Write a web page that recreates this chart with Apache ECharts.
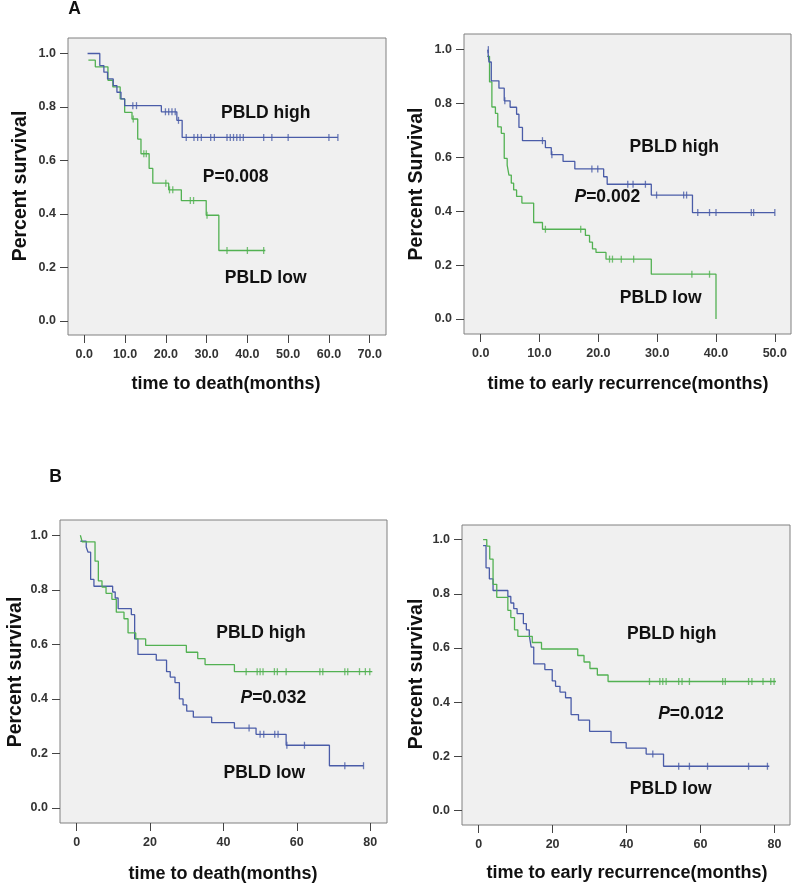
<!DOCTYPE html>
<html><head><meta charset="utf-8">
<script src="https://cdn.jsdelivr.net/npm/echarts@6/dist/echarts.min.js"></script>
<style>html,body{margin:0;padding:0;background:#fff}#c{width:796px;height:889px}</style>
</head><body><div id="c"></div>
<script>
// ---- tick values ----
const yTicks = [0, 0.2, 0.4, 0.6, 0.8, 1.0];
const aDeathXTicks = [0, 10, 20, 30, 40, 50, 60, 70];
const aRecXTicks = [0, 10, 20, 30, 40, 50];
const bXTicks = [0, 20, 40, 60, 80];

// ---- Panel A left: time to death ----
const aDeathHighT = [0.8, 3.8, 4.8, 5.7, 7.1, 8.0, 9.0, 9.9, 18.9, 22.7, 24.0];
const aDeathHighS = [1.0, 0.955, 0.93, 0.905, 0.88, 0.855, 0.83, 0.805, 0.782, 0.75, 0.686];
const aDeathHighEnd = 62.2;
const aDeathHighCens = [11.9, 12.8, 19.9, 20.7, 21.5, 22.3, 23.1, 25.0, 26.9, 27.8, 28.7, 31.0, 31.9, 35.0, 35.8, 36.6, 37.4, 38.2, 39.0, 44.0, 46.0, 50.0, 60.0, 62.2];
const aDeathLowT = [1.0, 2.7, 5.8, 7.0, 8.8, 9.9, 11.7, 13.1, 13.9, 15.9, 16.8, 20.7, 23.8, 29.9, 33.0];
const aDeathLowS = [0.975, 0.95, 0.90, 0.875, 0.83, 0.78, 0.755, 0.68, 0.625, 0.57, 0.515, 0.49, 0.45, 0.395, 0.263];
const aDeathLowEnd = 44.4;
const aDeathLowCens = [12.0, 14.6, 15.2, 20.0, 20.9, 21.7, 26.0, 26.8, 30.1, 35.0, 40.0, 44.0];

// ---- Panel A right: time to early recurrence ----
const aRecHighT = [1.2, 1.4, 1.8, 3.1, 4.0, 5.0, 6.1, 6.5, 7.1, 11.0, 12.0, 14.0, 16.0, 20.9, 21.5, 29.0, 36.0];
const aRecHighS = [1.0, 0.954, 0.884, 0.857, 0.81, 0.786, 0.76, 0.711, 0.662, 0.636, 0.61, 0.585, 0.557, 0.528, 0.50, 0.46, 0.395];
const aRecHighEnd = 50.0;
const aRecHighCens = [1.3, 4.1, 10.5, 12.1, 18.9, 19.9, 25.0, 25.9, 28.0, 29.9, 34.5, 35.0, 36.9, 38.9, 40.0, 46.0, 46.4, 50.0];
const aRecLowT = [1.1, 1.5, 1.9, 2.5, 2.9, 3.5, 4.0, 4.5, 4.8, 5.2, 5.6, 6.1, 7.0, 9.0, 10.5, 17.8, 18.5, 19.0, 19.6, 21.3, 29.0, 40.0];
const aRecLowS = [0.975, 0.88, 0.787, 0.763, 0.713, 0.689, 0.596, 0.571, 0.534, 0.504, 0.479, 0.455, 0.43, 0.358, 0.333, 0.31, 0.285, 0.26, 0.247, 0.222, 0.166, 0.0];
const aRecLowEnd = 40.0;
const aRecLowCens = [11.0, 17.0, 21.9, 22.4, 23.9, 26.0, 35.9, 38.9];

// ---- Panel B left: time to death ----
const bDeathHighT = [1.0, 1.5, 5.0, 5.9, 6.9, 8.0, 9.6, 10.8, 12.9, 14.0, 16.1, 18.8, 29.9, 33.0, 35.0, 43.0];
const bDeathHighS = [1.0, 0.976, 0.905, 0.833, 0.81, 0.787, 0.765, 0.718, 0.694, 0.642, 0.62, 0.596, 0.571, 0.548, 0.526, 0.50];
const bDeathHighEnd = 80.6;
const bDeathHighCens = [46.2, 49.2, 50.0, 50.8, 53.9, 54.7, 57.1, 66.3, 67.1, 73.1, 73.9, 77.1, 78.7, 79.9];
const bDeathLowT = [1.0, 2.6, 3.1, 3.8, 4.7, 9.8, 10.5, 11.3, 14.9, 15.8, 16.7, 21.7, 24.5, 25.5, 26.8, 28.0, 29.0, 30.0, 31.8, 36.8, 43.0, 48.9, 57.1, 68.9];
const bDeathLowS = [0.978, 0.957, 0.938, 0.838, 0.813, 0.792, 0.77, 0.731, 0.709, 0.62, 0.563, 0.542, 0.50, 0.48, 0.46, 0.40, 0.378, 0.355, 0.333, 0.313, 0.293, 0.27, 0.23, 0.155];
const bDeathLowEnd = 78.2;
const bDeathLowCens = [47.0, 50.0, 51.0, 54.0, 54.9, 57.3, 62.1, 73.1, 78.2];

// ---- Panel B right: time to early recurrence ----
const bRecHighT = [1.2, 2.2, 3.0, 3.9, 4.9, 7.9, 8.7, 9.7, 10.6, 14.5, 17.0, 26.8, 28.5, 30.1, 32.1, 35.0];
const bRecHighS = [1.0, 0.976, 0.928, 0.835, 0.787, 0.739, 0.712, 0.667, 0.643, 0.62, 0.596, 0.572, 0.548, 0.524, 0.50, 0.476];
const bRecHighEnd = 80.4;
const bRecHighCens = [46.2, 49.0, 49.8, 50.7, 54.1, 55.0, 57.0, 66.0, 66.7, 73.0, 73.9, 76.9, 79.0, 79.9];
const bRecLowT = [1.2, 2.0, 2.9, 3.9, 7.9, 8.7, 9.5, 10.4, 12.1, 12.9, 13.7, 14.2, 14.9, 17.9, 19.9, 20.8, 22.0, 23.5, 25.0, 27.0, 30.0, 35.8, 39.9, 45.3, 50.0];
const bRecLowS = [0.978, 0.896, 0.855, 0.812, 0.79, 0.766, 0.745, 0.727, 0.69, 0.667, 0.645, 0.603, 0.541, 0.52, 0.478, 0.458, 0.437, 0.416, 0.354, 0.333, 0.292, 0.25, 0.23, 0.208, 0.163];
const bRecLowEnd = 78.6;
const bRecLowCens = [47.1, 54.1, 57.0, 61.9, 73.0, 78.1];

const BLUE = '#4a5ca8', GREEN = '#52b152';
const FONT = '"Liberation Sans", Arial, Helvetica, sans-serif';

function stairs(T, S, end) {
  const p = [[T[0], S[0]]];
  for (let i = 1; i < T.length; i++) { p.push([T[i], S[i - 1]]); p.push([T[i], S[i]]); }
  p.push([end, S[S.length - 1]]);
  return p;
}
function cens(T, S, C) {
  return C.map(c => { let s = S[0]; for (let i = 0; i < T.length; i++) if (T[i] <= c) s = S[i]; return [c, s]; });
}

const panels = [
  { grid: { left: 68, top: 38, width: 318, height: 297 }, xr: [-4.0, 74.0], yr: [-0.053, 1.058], xt: aDeathXTicks, dec: 1,
    curves: [[aDeathLowT, aDeathLowS, aDeathLowEnd, aDeathLowCens, GREEN], [aDeathHighT, aDeathHighS, aDeathHighEnd, aDeathHighCens, BLUE]] },
  { grid: { left: 464, top: 34, width: 327, height: 300 }, xr: [-2.84, 52.75], yr: [-0.056, 1.058], xt: aRecXTicks, dec: 1,
    curves: [[aRecLowT, aRecLowS, aRecLowEnd, aRecLowCens, GREEN], [aRecHighT, aRecHighS, aRecHighEnd, aRecHighCens, BLUE]] },
  { grid: { left: 60, top: 520, width: 327, height: 303 }, xr: [-4.55, 84.6], yr: [-0.055, 1.056], xt: bXTicks, dec: 0,
    curves: [[bDeathLowT, bDeathLowS, bDeathLowEnd, bDeathLowCens, BLUE], [bDeathHighT, bDeathHighS, bDeathHighEnd, bDeathHighCens, GREEN]] },
  { grid: { left: 462, top: 525, width: 328, height: 300 }, xr: [-4.5, 84.2], yr: [-0.054, 1.054], xt: bXTicks, dec: 0,
    curves: [[bRecLowT, bRecLowS, bRecLowEnd, bRecLowCens, BLUE], [bRecHighT, bRecHighS, bRecHighEnd, bRecHighCens, GREEN]] }
];

const grid = [], xAxis = [], yAxis = [], series = [];
const tickStyle = { color: '#444', width: 1 };
const labStyle = { fontFamily: FONT, fontWeight: 'bold', fontSize: 12.5, color: '#333' };
panels.forEach((p, k) => {
  grid.push(Object.assign({ show: true, backgroundColor: '#f0f0f0', borderColor: '#808080', borderWidth: 1, containLabel: false }, p.grid));
  xAxis.push({ type: 'value', gridIndex: k, min: p.xr[0], max: p.xr[1], splitLine: { show: false },
    axisLine: { show: false, onZero: false },
    axisTick: { show: true, customValues: p.xt, length: 8, inside: false, lineStyle: tickStyle },
    axisLabel: Object.assign({ customValues: p.xt, margin: 13, formatter: v => Number(v).toFixed(p.dec) }, labStyle) });
  yAxis.push({ type: 'value', gridIndex: k, min: p.yr[0], max: p.yr[1], splitLine: { show: false },
    axisLine: { show: false, onZero: false },
    axisTick: { show: true, customValues: yTicks, length: 8, inside: false, lineStyle: tickStyle },
    axisLabel: Object.assign({ customValues: yTicks, margin: 12, formatter: v => Number(v).toFixed(1) }, labStyle) });
  p.curves.forEach(c => {
    series.push({ type: 'line', xAxisIndex: k, yAxisIndex: k, data: stairs(c[0], c[1], c[2]), showSymbol: false,
      lineStyle: { color: c[4], width: 1.3 }, itemStyle: { color: c[4] }, clip: false, silent: true, z: 3 });
    series.push({ type: 'scatter', xAxisIndex: k, yAxisIndex: k, data: cens(c[0], c[1], c[3]), symbol: 'rect',
      symbolSize: [1.3, 7], itemStyle: { color: c[4] }, clip: false, silent: true, z: 4 });
  });
});

function txt(x, y, text, size, rot, extra) {
  return Object.assign({ type: 'text', x: x, y: y, rotation: rot || 0, z: 10,
    style: { text: text, fontFamily: FONT, fontWeight: 'bold', fontSize: size, fill: '#111', align: 'center', verticalAlign: 'middle' } }, extra || {});
}
function ptxt(x, y, val) {
  return { type: 'text', x: x, y: y, z: 10, style: { text: '{i|P}{n|=' + val + '}', align: 'center', verticalAlign: 'middle',
    rich: { i: { fontFamily: FONT, fontWeight: 'bold', fontStyle: 'italic', fontSize: 17.5, fill: '#111' },
            n: { fontFamily: FONT, fontWeight: 'bold', fontSize: 17.5, fill: '#111' } } } };
}
const R = Math.PI / 2;
const graphic = [
  txt(74.5, 9, 'A', 17.5), txt(55.5, 477.5, 'B', 17.5),
  // axis titles
  txt(226, 384, 'time to death(months)', 18), txt(628, 384, 'time to early recurrence(months)', 18),
  txt(223, 874, 'time to death(months)', 18), txt(627, 873, 'time to early recurrence(months)', 18),
  txt(21, 186, 'Percent survival', 19.5, R), txt(417, 184, 'Percent Survival', 19.5, R),
  txt(15.5, 672, 'Percent survival', 19.5, R), txt(417, 674, 'Percent survival', 19.5, R),
  // annotations
  txt(265.7, 112.7, 'PBLD high', 17.5), txt(235.7, 176.7, 'P=0.008', 17.5), txt(265.7, 277.7, 'PBLD low', 17.5),
  txt(674.3, 146.7, 'PBLD high', 17.5), ptxt(607.3, 197.3, '0.002'), txt(660.7, 297.7, 'PBLD low', 17.5),
  txt(261, 632.7, 'PBLD high', 17.5), ptxt(273.3, 697.7, '0.032'), txt(264.3, 773.3, 'PBLD low', 17.5),
  txt(671.7, 634.3, 'PBLD high', 17.5), ptxt(691, 714.3, '0.012'), txt(670.7, 789.3, 'PBLD low', 17.5)
];

const chart = echarts.init(document.getElementById('c'), null, { renderer: 'canvas' });
chart.setOption({ animation: false, backgroundColor: '#ffffff', grid, xAxis, yAxis, series, graphic });
</script></body></html>
